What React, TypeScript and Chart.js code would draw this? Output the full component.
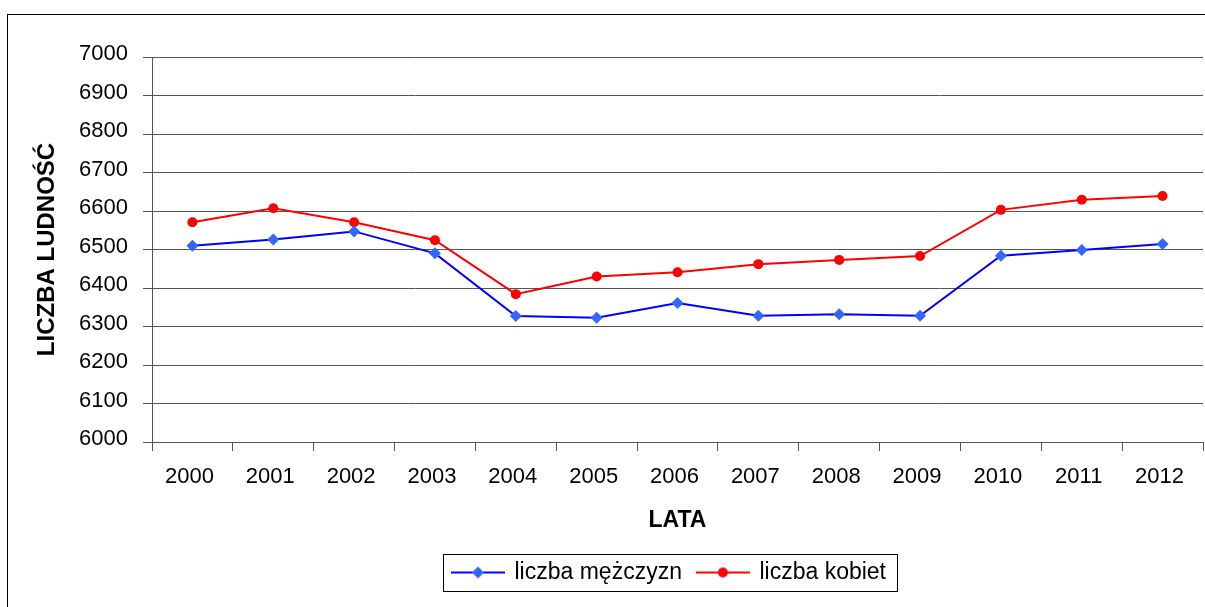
import React, { useEffect, useRef } from 'react';
import { Chart, registerables } from 'chart.js';

Chart.register(...registerables);

// ---- data ----
const years = ['2000', '2001', '2002', '2003', '2004', '2005', '2006', '2007', '2008', '2009', '2010', '2011', '2012'];
const menValues = [6510, 6526, 6547, 6490, 6327, 6323, 6361, 6328, 6332, 6328, 6484, 6499, 6514];
const womenValues = [6571, 6607, 6571, 6524, 6384, 6430, 6441, 6462, 6473, 6483, 6603, 6629, 6639];
const menLabel = 'liczba mężczyzn';
const womenLabel = 'liczba kobiet';
const yAxisTitle = 'LICZBA LUDNOŚĆ';
const xAxisTitle = 'LATA';
const yMin = 6000;
const yMax = 7000;
const yStep = 100;

const FONT = '"Liberation Sans", Arial, sans-serif';
const LEGEND_PAD = 16;
const LEGEND_FONT = 23;
const LEGEND_SHIFT = -8;
const CANVAS_W = 1209;
const CANVAS_H = 607;

function makeLegendImage(lineColor: string, markerColor: string, shape: 'diamond' | 'circle') {
  const c = document.createElement('canvas');
  c.width = 54;
  c.height = 14;
  const ctx = c.getContext('2d')!;
  ctx.strokeStyle = lineColor;
  ctx.lineWidth = 2;
  ctx.beginPath();
  ctx.moveTo(0, 7);
  ctx.lineTo(54, 7);
  ctx.stroke();
  ctx.fillStyle = markerColor;
  ctx.beginPath();
  if (shape === 'diamond') {
    ctx.moveTo(21, 7);
    ctx.lineTo(27, 1);
    ctx.lineTo(33, 7);
    ctx.lineTo(27, 13);
    ctx.closePath();
  } else {
    ctx.arc(27, 7, 5, 0, Math.PI * 2);
  }
  ctx.fill();
  return c;
}

const framePlugin = {
  id: 'frame',
  afterLayout(chart: any) {
    const legend = chart.legend;
    if (legend) {
      legend.left += LEGEND_SHIFT;
      legend.right += LEGEND_SHIFT;
    }
  },
  beforeDraw(chart: any) {
    const ctx = chart.ctx;
    ctx.save();
    ctx.fillStyle = '#ffffff';
    ctx.fillRect(0, 0, chart.width, chart.height);
    ctx.strokeStyle = '#000000';
    ctx.lineWidth = 1;
    ctx.strokeRect(7.5, 14.5, chart.width + 10, chart.height + 10);
    ctx.restore();
  },
  afterDraw(chart: any) {
    const legend = chart.legend;
    if (!legend || !legend.lineWidths) return;
    const lw = legend.lineWidths[0];
    const x0 = (legend.left + LEGEND_PAD + legend.right - lw) / 2;
    const cy = legend.top + LEGEND_PAD + LEGEND_FONT / 2;
    const ctx = chart.ctx;
    ctx.save();
    ctx.strokeStyle = '#000000';
    ctx.lineWidth = 1;
    ctx.strokeRect(Math.round(x0 - 10) + 0.5, Math.round(cy - 19) + 0.5, Math.round(lw - LEGEND_PAD + 21), 37);
    ctx.restore();
  },
};

export default function App() {
  const ref = useRef<HTMLCanvasElement | null>(null);

  useEffect(() => {
    if (!ref.current) return;
    const menImg = makeLegendImage('#0000ff', '#3366ff', 'diamond');
    const womenImg = makeLegendImage('#ff0000', '#ff0000', 'circle');

    const chart = new Chart(ref.current, {
      type: 'line',
      data: {
        labels: years,
        datasets: [
          {
            label: menLabel,
            data: menValues,
            borderColor: '#0000ff',
            borderWidth: 2,
            pointStyle: 'rectRot',
            pointRadius: 6,
            pointBorderWidth: 0,
            pointBackgroundColor: '#3366ff',
            pointBorderColor: '#3366ff',
            tension: 0,
            fill: false,
          },
          {
            label: womenLabel,
            data: womenValues,
            borderColor: '#ff0000',
            borderWidth: 2,
            pointStyle: 'circle',
            pointRadius: 5,
            pointBorderWidth: 0,
            pointBackgroundColor: '#ff0000',
            pointBorderColor: '#ff0000',
            tension: 0,
            fill: false,
          },
        ],
      },
      options: {
        responsive: false,
        animation: false,
        events: [],
        layout: { padding: { top: 57, right: 2, bottom: 13, left: 0 } },
        plugins: {
          tooltip: { enabled: false },
          title: { display: false },
          legend: {
            display: true,
            position: 'bottom',
            fullSize: false,
            labels: {
              usePointStyle: true,
              pointStyleWidth: 50,
              boxHeight: LEGEND_FONT,
              padding: LEGEND_PAD,
              color: '#000000',
              font: { family: FONT, size: LEGEND_FONT },
              generateLabels: () => [
                { text: menLabel, pointStyle: menImg as any, fillStyle: '#3366ff', strokeStyle: '#0000ff', lineWidth: 0, hidden: false, datasetIndex: 0, fontColor: '#000' },
                { text: womenLabel, pointStyle: womenImg as any, fillStyle: '#ff0000', strokeStyle: '#ff0000', lineWidth: 0, hidden: false, datasetIndex: 1, fontColor: '#000' },
              ],
            },
          },
        },
        scales: {
          x: {
            type: 'category',
            offset: true,
            afterFit: (scale: any) => {
              scale.height = 103;
            },
            grid: {
              display: true,
              drawOnChartArea: false,
              drawTicks: true,
              tickLength: 9,
              color: '#555555',
              offset: true,
            },
            border: { display: true, color: '#555555', width: 1 },
            ticks: {
              color: '#000000',
              font: { family: FONT, size: 22 },
              padding: 13,
              labelOffset: -3,
              maxRotation: 0,
              autoSkip: false,
            },
            title: {
              display: true,
              text: xAxisTitle,
              color: '#000000',
              font: { family: FONT, size: 23, weight: 'bold' },
              padding: { top: 0, bottom: 11 },
            },
          },
          y: {
            min: yMin,
            max: yMax,
            afterFit: (scale: any) => {
              scale.width = 152;
            },
            grid: {
              display: true,
              drawOnChartArea: true,
              drawTicks: true,
              tickLength: 9,
              color: '#555555',
              lineWidth: 1,
            },
            border: { display: true, color: '#555555', width: 1 },
            ticks: {
              stepSize: yStep,
              color: '#000000',
              font: { family: FONT, size: 22 },
              padding: 15,
              labelOffset: -3,
              callback: (value: any) => String(value),
            },
            title: {
              display: true,
              text: yAxisTitle,
              color: '#000000',
              font: { family: FONT, size: 24, weight: 'bold' },
              padding: { top: 33, bottom: 0 },
            },
          },
        },
      },
      plugins: [framePlugin],
    });

    return () => {
      chart.destroy();
    };
  }, []);

  return (
    <div style={{ position: 'fixed', left: 0, top: 0, width: 1205, height: 607, background: '#fff', overflow: 'hidden' }}>
      <canvas ref={ref} width={CANVAS_W} height={CANVAS_H} style={{ display: 'block', width: CANVAS_W, height: CANVAS_H }} />
    </div>
  );
}
